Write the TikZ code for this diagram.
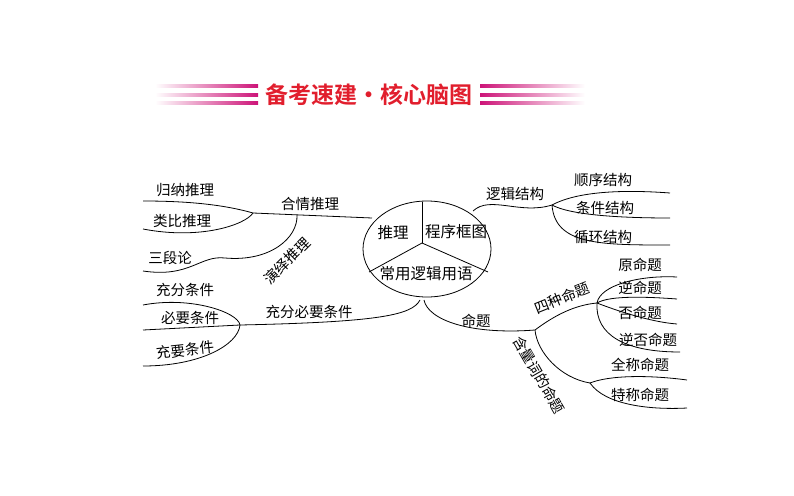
\documentclass[tikz,border=0pt]{standalone}
\usepackage{fontspec}
\setmainfont{Noto Sans CJK SC}
\newfontfamily\titlefont{Noto Sans CJK SC Bold}
\definecolor{tred}{RGB}{225,30,45}
\definecolor{tmag}{RGB}{205,20,120}
\begin{document}
\begin{tikzpicture}[x=1pt,y=-1pt,
  lbl/.style={inner sep=1pt,font=\fontsize{14.5}{15}\selectfont},
  ln/.style={line width=0.8pt}]
\useasboundingbox (0,0) rectangle (794,495);
% title
\foreach \yy in {86,95,103}{
  \shade[left color=white,right color=tmag] (155,\yy-1.6) rectangle (258,\yy+1.6);
  \shade[left color=tmag,right color=white] (480,\yy-1.6) rectangle (585,\yy+1.6);
}
\node[text=tred,font=\titlefont\fontsize{23}{24}\selectfont] (title) at (369,95) {备考速建・核心脑图};
% central ellipse
\draw[ln] (427,249) ellipse [x radius=64, y radius=48];
\coordinate (j) at (422,243);
\draw[ln] (j) -- (422,201.5);
\draw[ln] (j) -- (369,272);
\draw[ln] (j) -- (488,272);
\node[lbl,font=\fontsize{15.5}{16}\selectfont] (tl) at (393,233) {推理};
\node[lbl,font=\fontsize{15.5}{16}\selectfont] (cx) at (456,232) {程序框图};
\node[lbl,font=\fontsize{15.5}{16}\selectfont] (cy) at (426,274) {常用逻辑用语};
% anchors on ellipse
\coordinate (eL) at (372,218);
\coordinate (eR) at (473,211);
\coordinate (eB1) at (420,300);
\coordinate (eB2) at (424,300);
% left: 合情推理
\coordinate (f1) at (253,213);
\coordinate (d1) at (297,215);
\draw[ln] (eL) -- (f1);
\node[lbl] (hq) at (310,204) {合情推理};
\node[lbl] (gn) at (185,190) {归纳推理};
\node[lbl] (lb) at (182,221) {类比推理};
\coordinate (u1) at (143,201);
\coordinate (u2) at (143,229);
\draw[ln] (f1) .. controls (225,205) and (190,201) .. (u1);
\draw[ln] (f1) .. controls (245,225) and (200,240) .. (u2);
% 演绎推理
\coordinate (u3) at (143,271);
\draw[ln] (d1) .. controls (298,238) and (270,262) .. (225,258) .. controls (200,255) and (190,278) .. (u3);
\node[lbl,rotate=45] (yy) at (287,261) {演绎推理};
\node[lbl] (sdl) at (170,258) {三段论};
% 充分必要条件
\coordinate (f2) at (240,325);
\draw[ln] (eB1) .. controls (412,315) and (380,322) .. (f2);
\node[lbl] (cfby) at (309,312) {充分必要条件};
\node[lbl] (cf) at (185,290) {充分条件};
\node[lbl] (by) at (190,318) {必要条件};
\node[lbl,rotate=6] (cy2) at (185,350) {充要条件};
\coordinate (v1) at (143,305);
\coordinate (v2) at (143,330);
\coordinate (v3) at (143,366);
\draw[ln] (f2) .. controls (238,312) and (190,296) .. (v1);
\draw[ln] (f2) -- (v2);
\draw[ln] (f2) .. controls (238,345) and (200,366) .. (v3);
% right: 逻辑结构
\coordinate (f3) at (552,205);
\draw[ln] (eR) .. controls (490,195) and (520,215) .. (f3);
\node[lbl] (ljjg) at (515,194) {逻辑结构};
\node[lbl] (sx) at (603,180) {顺序结构};
\node[lbl] (tj) at (605,208) {条件结构};
\node[lbl] (xh) at (603,237) {循环结构};
\coordinate (w1) at (670,193);
\coordinate (w2) at (670,218);
\coordinate (w3) at (670,245);
\draw[ln] (f3) .. controls (580,190) and (630,190) .. (w1);
\draw[ln] (f3) .. controls (570,215) and (620,218) .. (w2);
\draw[ln] (f3) .. controls (555,245) and (600,245) .. (w3);
% 命题
\coordinate (f4) at (535,330);
\draw[ln] (eB2) .. controls (428,320) and (470,335) .. (f4);
\node[lbl] (mt) at (476,321) {命题};
\coordinate (f5) at (597,303);
\draw[ln] (f4) .. controls (555,315) and (575,305) .. (f5);
\node[lbl,rotate=22] (sz) at (562,298) {四种命题};
\node[lbl] (ymt) at (640,265) {原命题};
\node[lbl] (nmt) at (640,288) {逆命题};
\node[lbl] (fmt) at (640,313) {否命题};
\node[lbl] (nfmt) at (648,340) {逆否命题};
\coordinate (z1) at (677,277);
\coordinate (z2) at (677,299);
\coordinate (z3) at (677,324);
\coordinate (z4) at (680,352);
\draw[ln] (f5) .. controls (600,285) and (640,275) .. (z1);
\draw[ln] (f5) .. controls (610,295) and (650,297) .. (z2);
\draw[ln] (f5) .. controls (615,310) and (650,322) .. (z3);
\draw[ln] (f5) .. controls (595,335) and (625,352) .. (z4);
% 含量词的命题
\coordinate (f6) at (590,383);
\draw[ln] (f4) .. controls (537,352) and (560,378) .. (f6);
\node[lbl,rotate=-60] (hl) at (539,375) {含量词的命题};
\node[lbl] (qc) at (640,365) {全称命题};
\node[lbl] (tc) at (640,395) {特称命题};
\coordinate (s1) at (687,380);
\coordinate (s2) at (687,408);
\draw[ln] (f6) .. controls (610,375) and (650,375) .. (s1);
\draw[ln] (f6) .. controls (605,405) and (650,410) .. (s2);
\end{tikzpicture}
\end{document}
